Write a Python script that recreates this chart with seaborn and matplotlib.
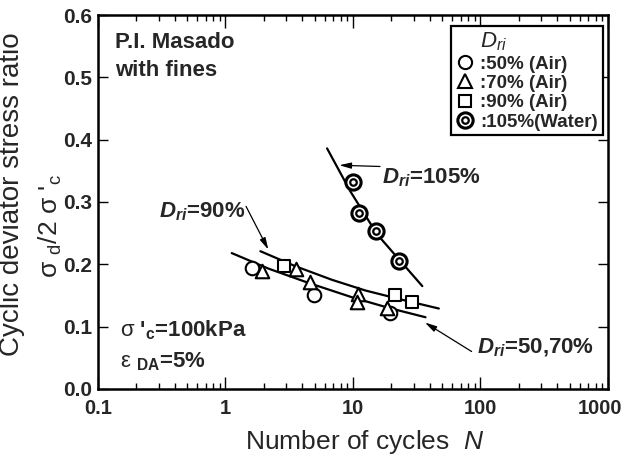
import matplotlib
matplotlib.use('Agg')
import numpy as np
import pandas as pd
import matplotlib.pyplot as plt
import seaborn as sns
from matplotlib.lines import Line2D
from matplotlib.legend_handler import HandlerTuple
from matplotlib.ticker import LogLocator, NullFormatter
from matplotlib.transforms import ScaledTranslation

# ===== DATA =====
# open circles, Dri = 50% (Air)
n_50 = [1.61, 4.92, 19.5]
r_50 = [0.194, 0.150, 0.122]
# open triangles, Dri = 70% (Air)
n_70 = [1.93, 3.58, 4.58, 11.0, 10.8, 18.6]
r_70 = [0.189, 0.193, 0.171, 0.153, 0.139, 0.130]
# open squares, Dri = 90% (Air)
n_90 = [2.86, 21.3, 28.8]
r_90 = [0.198, 0.151, 0.140]
# double circles, Dri = 105% (Water)
n_105 = [10.0, 11.1, 15.2, 22.9]
r_105 = [0.332, 0.282, 0.253, 0.206]

# fitted curves as drawn in the figure
curve_90_n = [1.88, 3.53, 6.87, 12.5, 24.4, 47.2]
curve_90_r = [0.221, 0.197, 0.175, 0.158, 0.143, 0.129]
curve_5070_n = [1.12, 2.18, 4.50, 9.86, 19.1, 37.1]
curve_5070_r = [0.218, 0.193, 0.170, 0.147, 0.130, 0.115]
curve_105_n = [6.27, 9.55, 15.5, 35.0]
curve_105_r = [0.386, 0.317, 0.248, 0.165]

x_ticks = [0.1, 1, 10, 100, 1000]
x_tick_labels = ['0.1', '1', '10', '100', '1000']
y_ticks = [0.0, 0.1, 0.2, 0.3, 0.4, 0.5, 0.6]
y_tick_labels = ['0.0', '0.1', '0.2', '0.3', '0.4', '0.5', '0.6']
legend_labels = [':50% (Air)', ':70% (Air)', ':90% (Air)', ':105%(Water)']
# =========================================

sns.set_style("ticks")
plt.rcParams['font.family'] = ['Liberation Sans', 'DejaVu Sans']
plt.rcParams['mathtext.fontset'] = 'custom'
plt.rcParams['mathtext.rm'] = 'Liberation Sans'
plt.rcParams['mathtext.it'] = 'Liberation Sans:italic'
plt.rcParams['mathtext.bf'] = 'Liberation Sans:bold'
try:
    plt.rcParams['mathtext.bfit'] = 'Liberation Sans:italic:bold'
    DRI = r'$\mathbfit{D}_{\mathbfit{ri}}$'
except KeyError:
    DRI = r'$\mathbf{D}_{\mathbf{ri}}$'

points = pd.concat([
    pd.DataFrame({'N': n_50, 'ratio': r_50, 'group': '50'}),
    pd.DataFrame({'N': n_70, 'ratio': r_70, 'group': '70'}),
    pd.DataFrame({'N': n_90, 'ratio': r_90, 'group': '90'}),
    pd.DataFrame({'N': n_105, 'ratio': r_105, 'group': '105'}),
], ignore_index=True)

fig = plt.figure(figsize=(6.28, 4.57), dpi=100)
ax = fig.add_axes([0.156, 0.149, 0.812, 0.818])

# curves
for cn, cr in [(curve_90_n, curve_90_r), (curve_5070_n, curve_5070_r),
               (curve_105_n, curve_105_r)]:
    sns.lineplot(x=cn, y=cr, sort=False, estimator=None, color='black',
                 linewidth=1.6, ax=ax, zorder=2)

# markers
mk = dict(facecolor='white', edgecolor='black', linewidth=1.5, zorder=3,
          legend=False, ax=ax)
sns.scatterplot(data=points[points.group == '50'], x='N', y='ratio',
                marker='o', s=95, **mk)
sns.scatterplot(data=points[points.group == '70'], x='N', y='ratio',
                marker='^', s=95, **mk)
sns.scatterplot(data=points[points.group == '90'], x='N', y='ratio',
                marker='s', s=75, **mk)
sns.scatterplot(data=points[points.group == '105'], x='N', y='ratio',
                marker='o', s=120, facecolor='white', edgecolor='black',
                linewidth=2.2, zorder=3, legend=False, ax=ax)
sns.scatterplot(data=points[points.group == '105'], x='N', y='ratio',
                marker='o', s=22, facecolor='white', edgecolor='black',
                linewidth=1.6, zorder=4, legend=False, ax=ax)

ax.set_xscale('log')
ax.set_xlim(0.1, 1000)
ax.set_ylim(0, 0.6)
ax.set_xticks(x_ticks, labels=x_tick_labels)
ax.xaxis.set_minor_locator(LogLocator(base=10, subs=np.arange(2, 10)))
ax.xaxis.set_minor_formatter(NullFormatter())
ax.set_yticks(y_ticks, labels=y_tick_labels)
ax.set_xlabel('')
ax.set_ylabel('')

ax.tick_params(which='both', direction='in', top=True, right=True,
               width=1.0, color='black')
ax.tick_params(axis='x', which='major', length=9, labelsize=14.5, pad=7)
ax.tick_params(axis='x', which='minor', length=4.5)
ax.tick_params(axis='y', which='major', length=7.5, labelsize=15, pad=4)
for lab in ax.get_xticklabels() + ax.get_yticklabels():
    lab.set_fontweight('bold')
# keep the last x label inside the figure
last = ax.get_xticklabels()[-1]
last.set_transform(last.get_transform() +
                   ScaledTranslation(-6 / 72, 0, fig.dpi_scale_trans))
for sp in ax.spines.values():
    sp.set_linewidth(1.8)
    sp.set_color('black')

# axis labels
fig.text(0.58, 0.033, r'Number of cycles  $\mathit{N}$',
         ha='center', va='center', fontsize=19)
fig.text(0.019, 0.575, 'Cyclic deviator stress ratio', rotation=90,
         ha='center', va='center', fontsize=20)
fig.text(0.08, 0.505, r'$\mathrm{\sigma}$ $_{\mathrm{d}}$/2 $\mathrm{\sigma}$'
         r" '$_{\mathrm{c}}$", rotation=90, ha='center', va='center',
         fontsize=19)

# text annotations
ax.text(0.033, 0.954, 'P.I. Masado\nwith fines', transform=ax.transAxes,
        ha='left', va='top', fontsize=16, fontweight='bold', linespacing=1.4)
ax.text(0.043, 0.158, r"$\mathrm{\sigma}$ '$_{\mathbf{c}}$=100kPa",
        transform=ax.transAxes, ha='left', va='center', fontsize=16,
        fontweight='bold')
ax.text(0.043, 0.072, r'$\mathrm{\varepsilon}$ $_{\mathbf{DA}}$=5%',
        transform=ax.transAxes, ha='left', va='center', fontsize=16,
        fontweight='bold')

arrow = dict(arrowstyle='-|>,head_length=0.7,head_width=0.18', color='black',
             lw=0.9, shrinkA=0, shrinkB=0)
ax.text(16.9, 0.339, DRI + '=105%', ha='left', va='center', fontsize=16,
        fontweight='bold')
ax.annotate('', xy=(7.81, 0.359), xytext=(16.3, 0.357), arrowprops=arrow)
ax.text(1.42, 0.285, DRI + '=90%', ha='right', va='center', fontsize=16,
        fontweight='bold')
ax.annotate('', xy=(2.17, 0.2236), xytext=(1.45, 0.293), arrowprops=arrow)
ax.text(94, 0.066, DRI + '=50,70%', ha='left', va='center', fontsize=16,
        fontweight='bold')
ax.annotate('', xy=(36.7, 0.1066), xytext=(85.3, 0.060), arrowprops=arrow)

# legend
base = dict(ls='none', markerfacecolor='white', markeredgecolor='black')
h50 = Line2D([], [], marker='o', markersize=9.5, markeredgewidth=1.5, **base)
h70 = Line2D([], [], marker='^', markersize=9.5, markeredgewidth=1.5, **base)
h90 = Line2D([], [], marker='s', markersize=8.5, markeredgewidth=1.5, **base)
h105a = Line2D([], [], marker='o', markersize=11, markeredgewidth=2.2, **base)
h105b = Line2D([], [], marker='o', markersize=4.7, markeredgewidth=1.6, **base)
leg = ax.legend([h50, h70, h90, (h105a, h105b)], legend_labels,
                handler_map={tuple: HandlerTuple(ndivide=1)},
                loc='upper right', bbox_to_anchor=(0.99, 0.971),
                borderaxespad=0, fancybox=False, framealpha=1,
                edgecolor='black', handlelength=1.0, handletextpad=0.3,
                labelspacing=0.12, borderpad=0.25,
                prop={'weight': 'bold', 'size': 13.5},
                title=r'    $\mathit{D}_{\mathit{ri}}$',
                title_fontproperties={'size': 16}, alignment='left')
leg.get_frame().set_linewidth(1.6)

plt.savefig('out.png', dpi=100)
plt.close()
